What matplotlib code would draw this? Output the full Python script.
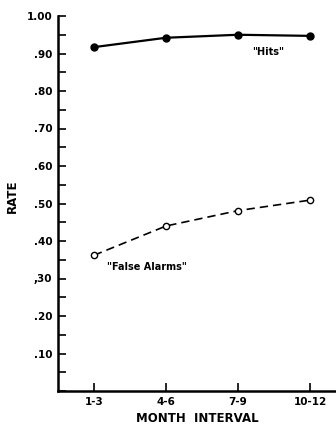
import matplotlib
matplotlib.use("Agg")
import matplotlib.pyplot as plt
from matplotlib.ticker import MultipleLocator

categories = ["1-3", "4-6", "7-9", "10-12"]
hits = [0.917, 0.942, 0.950, 0.947]
false_alarms = [0.362, 0.440, 0.481, 0.509]
ytick_vals = [0.10, 0.20, 0.30, 0.40, 0.50, 0.60, 0.70, 0.80, 0.90, 1.00]
ytick_labels = [".10", ".20", ",30", ".40", ".50", ".60", ".70", ".80", ".90", "1.00"]

plt.rcParams['font.family'] = ['DejaVu Sans']
fig = plt.figure(figsize=(3.36, 4.30), dpi=100)
ax = fig.add_axes([58/336, 39/430, 1 - 58/336, 375/430])

x = list(range(len(categories)))
ax.plot(x, hits, color='black', lw=1.6, marker='o', ms=5, mfc='black', mec='black')
ax.plot(x, false_alarms, color='black', lw=1.2, ls=(0, (5, 3)), marker='o', ms=4.5, mfc='white', mec='black', mew=1.0)

ax.set_xlim(-0.5, 3.36)
ax.set_ylim(0, 1.0)
ax.set_xticks(x)
ax.set_xticklabels(categories, fontsize=7.5, fontweight='bold')
ax.set_yticks(ytick_vals)
ax.set_yticklabels(ytick_labels, fontsize=7.5, fontweight='bold')
ax.yaxis.set_minor_locator(MultipleLocator(0.05))
ax.tick_params(axis='both', which='both', direction='in', width=1.2, length=6, pad=4)
ax.tick_params(axis='y', which='minor', length=6)

for s in ['top', 'right']:
    ax.spines[s].set_visible(False)
for s in ['left', 'bottom']:
    ax.spines[s].set_linewidth(1.8)

ax.set_ylabel("RATE", fontsize=8.5, fontweight='bold')
ax.yaxis.set_label_coords(-0.14, 0.52)
ax.set_xlabel("MONTH  INTERVAL", fontsize=8.5, fontweight='bold', labelpad=4)

ax.text(2.2, 0.904, '"Hits"', fontsize=7, fontweight='bold', ha='left', va='center')
ax.text(0.18, 0.332, '"False Alarms"', fontsize=7, fontweight='bold', ha='left', va='center')

fig.savefig("out.png", dpi=100)
